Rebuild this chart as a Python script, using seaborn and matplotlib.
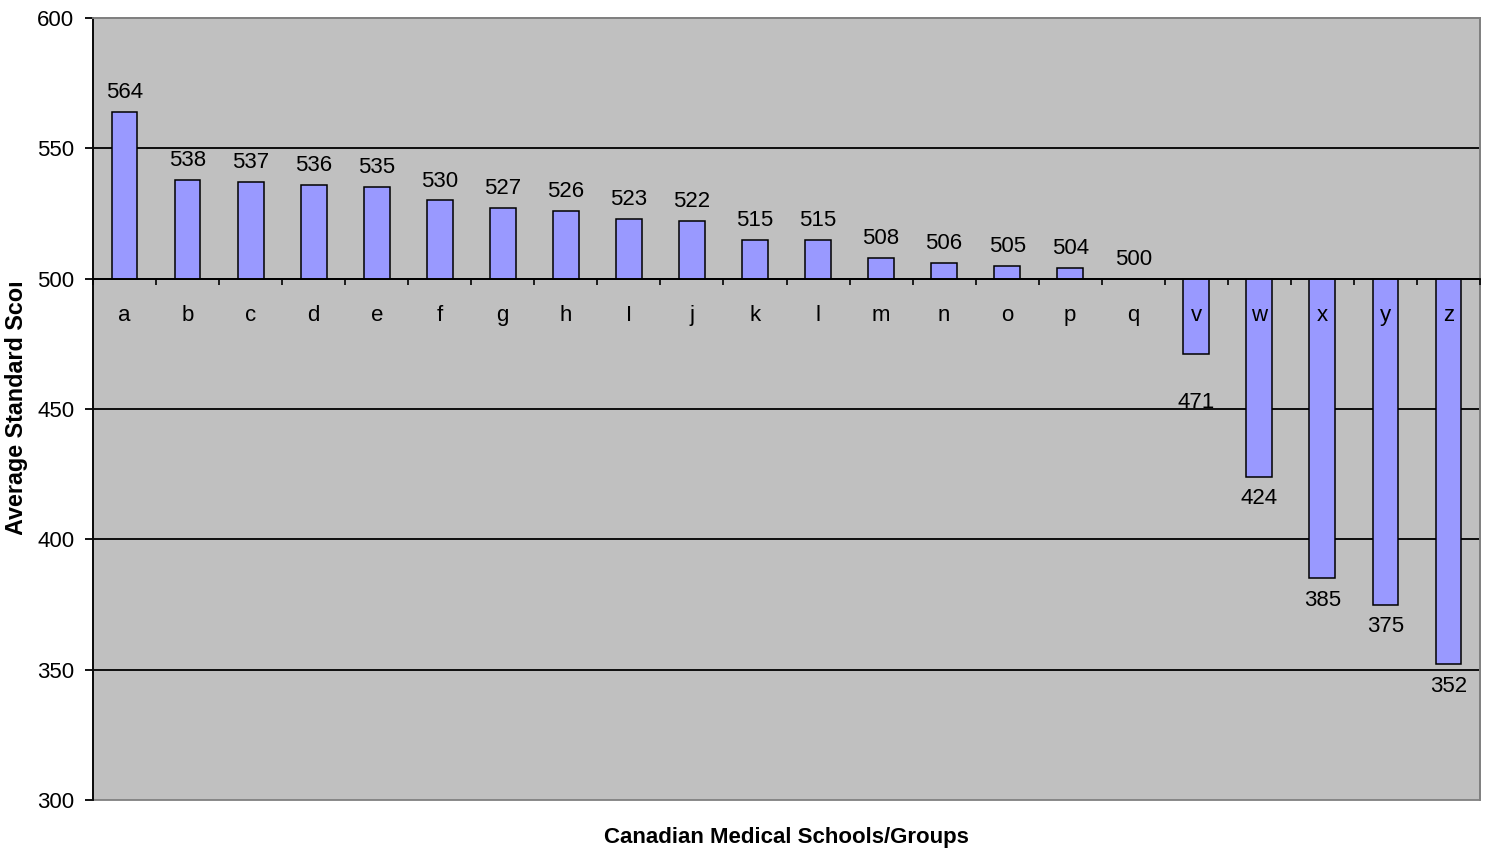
import numpy as np
import pandas as pd
import matplotlib
matplotlib.use("Agg")
import matplotlib.pyplot as plt
import seaborn as sns
from matplotlib.patches import Rectangle
from matplotlib.ticker import FuncFormatter, FixedLocator
from matplotlib.transforms import Bbox

# data
schools = ["a", "b", "c", "d", "e", "f", "g", "h", "I", "j", "k",
           "l", "m", "n", "o", "p", "q", "v", "w", "x", "y", "z"]
scores = [564, 538, 537, 536, 535, 530, 527, 526, 523, 522, 515,
          515, 508, 506, 505, 504, 500, 471, 424, 385, 375, 352]
base = 500
y_ticks = [300, 350, 400, 450, 500, 550, 600]

df = pd.DataFrame({"school": schools, "score": scores})
df["diff"] = df["score"] - base

sns.set_style("white")
plt.rcParams["font.family"] = ["Liberation Sans", "DejaVu Sans"]
plt.rcParams["text.color"] = "black"
plt.rcParams["xtick.color"] = "black"
plt.rcParams["ytick.color"] = "black"
fs = 16

fig = plt.figure(figsize=(14.87, 8.51), dpi=100)
ax = fig.add_axes([93 / 1487, 1 - 800 / 851, (1480 - 93) / 1487, (800 - 18) / 851])
ax.set_facecolor("#C0C0C0")

# gridlines under the bars
for t in y_ticks[1:-1]:
    ax.axhline(t - base, color="black", lw=1.3, zorder=0.5)

sns.barplot(data=df, x="school", y="diff", color="#9999FF", saturation=1,
            width=0.41, edgecolor="black", linewidth=1.1, ax=ax, zorder=2)

ax.set_ylim(y_ticks[0] - base, y_ticks[-1] - base)
ax.set_xlim(-0.5, len(schools) - 0.5)
ax.yaxis.set_major_locator(FixedLocator([t - base for t in y_ticks]))
ax.yaxis.set_major_formatter(FuncFormatter(lambda v, p: f"{v + base:.0f}"))

# x axis sits on the 500 baseline, its labels drawn over the bars
ax.xaxis.set_zorder(4)
ax.spines["bottom"].set_position(("data", 0))
ax.spines["bottom"].set_color("black")
ax.spines["bottom"].set_linewidth(1.3)
ax.spines["bottom"].set_zorder(3)
ax.spines["left"].set_color("black")
ax.spines["left"].set_linewidth(1.3)
for s in ["top", "right"]:
    ax.spines[s].set_color("#808080")
    ax.spines[s].set_linewidth(1.3)
ax.add_patch(Rectangle((0, 0), 1, 1, transform=ax.transAxes, fill=False,
                       edgecolor="#808080", lw=1.3, zorder=0.6, clip_on=False))

ax.xaxis.set_minor_locator(FixedLocator(np.arange(-0.5, len(schools), 1.0)))
ax.tick_params(axis="x", which="major", length=0, pad=19, labelsize=fs,
               labelcolor="black")
ax.tick_params(axis="x", which="minor", direction="out", length=4, width=1.2,
               color="black", bottom=True)
ax.tick_params(axis="y", direction="out", length=5.5, width=1.3, pad=8,
               labelsize=fs, left=True, color="black", labelcolor="black")
ax.set_xlabel("")
ax.set_ylabel("")

# value labels
for i, (name, val) in enumerate(zip(schools, scores)):
    d = val - base
    if d >= 0:
        off = 14
    elif name == "v":
        off = -35
    else:
        off = -16
    ax.annotate(f"{val}", (i, d), xytext=(0, off), textcoords="offset points",
                ha="center", va="center", fontsize=fs, color="black", zorder=5)

fig.text(786 / 1487, 1 - 838 / 851, "Canadian Medical Schools/Groups",
         ha="center", va="center", fontsize=fs, fontweight="bold", color="black")

# y label clipped at the top like the original
yl = fig.text(17 / 1487, 1 - 535 / 851, "Average Standard Score", rotation=90,
              ha="center", va="bottom", fontsize=16.8, fontweight="bold", color="black")
yl.set_clip_box(Bbox.from_extents(0, 851 - 535, 60, 851 - 283))
yl.set_clip_on(True)

fig.savefig("out.png", dpi=100)
